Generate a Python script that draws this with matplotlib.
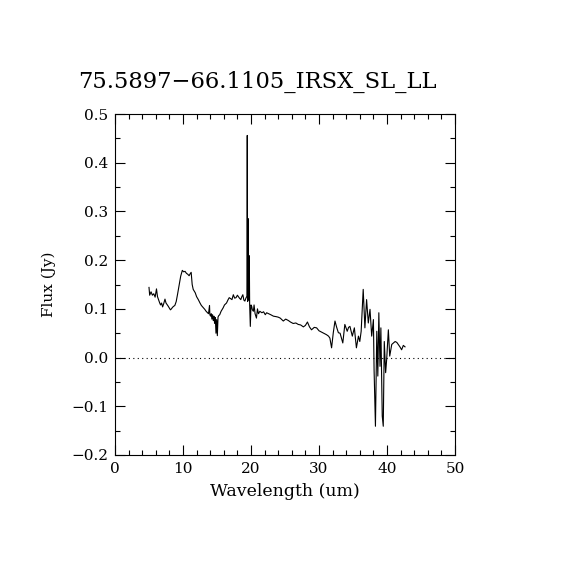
import matplotlib
matplotlib.use("Agg")
import matplotlib.pyplot as plt
from matplotlib.ticker import MultipleLocator

title = "75.5897\u221266.1105_IRSX_SL_LL"
xlabel = "Wavelength (um)"
ylabel = "Flux (Jy)"

wave = [5.0, 5.1, 5.3, 5.5, 5.7, 5.9, 6.0, 6.1, 6.25, 6.4, 6.55, 6.7, 6.85, 7.0, 7.15,
        7.35, 7.5, 7.6, 7.8, 7.97, 8.15, 8.3, 8.45, 8.6, 8.8, 9.0, 9.2, 9.45, 9.66, 9.9,
        10.1, 10.3, 10.5, 10.7, 10.9, 11.05, 11.2, 11.35, 11.5, 11.8, 12.0, 12.25, 12.5,
        12.7, 12.95, 13.2, 13.4, 13.6, 13.75, 13.9, 13.95, 14.05, 14.15, 14.25, 14.35,
        14.45, 14.55, 14.65, 14.75, 14.85, 14.95, 15.05, 15.15, 15.25, 15.4, 15.6, 15.9,
        16.1, 16.4, 16.6, 16.8, 17.0, 17.2, 17.4, 17.6, 17.8, 18.0, 18.1, 18.3, 18.5,
        18.65, 18.8, 18.95, 19.1, 19.25, 19.4, 19.45, 19.5, 19.6, 19.65, 19.75, 19.8,
        19.9, 20.0, 20.1, 20.2, 20.35, 20.45, 20.6, 20.8, 20.95, 21.1, 21.3, 21.6, 21.85,
        22.1, 22.3, 22.6, 22.9, 23.3, 23.7, 24.0, 24.3, 24.75, 25.1, 25.5, 25.8, 26.2,
        26.6, 26.95, 27.3, 27.7, 28.0, 28.3, 28.6, 28.9, 29.3, 29.65, 30.0, 30.4, 30.8,
        31.1, 31.4, 31.6, 31.85, 32.1, 32.35, 32.6, 32.85, 33.1, 33.3, 33.5, 33.8, 34.0,
        34.15, 34.35, 34.55, 34.9, 35.2, 35.5, 35.8, 36.0, 36.2, 36.5, 36.75, 37.0, 37.25,
        37.5, 37.75, 38.0, 38.1, 38.3, 38.5, 38.65, 38.8, 38.97, 39.1, 39.3, 39.45, 39.6,
        39.8, 39.95, 40.2, 40.4, 40.7, 40.95, 41.2, 41.45, 41.65, 41.9, 42.15, 42.4, 42.65]

flux = [0.144, 0.128, 0.135, 0.128, 0.131, 0.124, 0.132, 0.141, 0.125, 0.119, 0.113,
        0.108, 0.112, 0.104, 0.110, 0.120, 0.112, 0.110, 0.106, 0.102, 0.098, 0.100,
        0.103, 0.105, 0.107, 0.115, 0.130, 0.150, 0.167, 0.179, 0.176, 0.177, 0.173,
        0.171, 0.168, 0.172, 0.175, 0.150, 0.140, 0.133, 0.125, 0.119, 0.112, 0.107,
        0.103, 0.099, 0.095, 0.092, 0.090, 0.107, 0.088, 0.085, 0.090, 0.079, 0.088,
        0.076, 0.085, 0.070, 0.082, 0.050, 0.078, 0.045, 0.083, 0.086, 0.088, 0.095,
        0.102, 0.108, 0.112, 0.118, 0.123, 0.121, 0.119, 0.129, 0.122, 0.123, 0.128,
        0.126, 0.122, 0.119, 0.125, 0.129, 0.118, 0.116, 0.122, 0.126, 0.456, 0.115,
        0.285, 0.118, 0.209, 0.110, 0.064, 0.108, 0.105, 0.098, 0.095, 0.108, 0.090,
        0.081, 0.100, 0.090, 0.095, 0.092, 0.094, 0.088, 0.092, 0.090, 0.088, 0.085,
        0.084, 0.083, 0.081, 0.075, 0.079, 0.076, 0.073, 0.070, 0.071, 0.068, 0.067,
        0.063, 0.066, 0.073, 0.063, 0.057, 0.062, 0.061, 0.055, 0.052, 0.049, 0.047,
        0.044, 0.040, 0.020, 0.051, 0.075, 0.062, 0.051, 0.050, 0.040, 0.030, 0.068,
        0.060, 0.054, 0.062, 0.064, 0.044, 0.061, 0.020, 0.044, 0.033, 0.054, 0.140,
        0.061, 0.119, 0.071, 0.099, 0.044, 0.078, -0.025, -0.141, 0.054, -0.038, 0.092,
        -0.018, 0.061, -0.120, -0.141, 0.033, -0.031, -0.004, 0.057, 0.003, 0.027,
        0.030, 0.033, 0.031, 0.027, 0.022, 0.016, 0.025, 0.022]

plt.rcParams['font.family'] = ['DejaVu Serif']

fig = plt.figure(figsize=(5.7, 5.7), dpi=100)
ax = fig.add_axes([115/570, 115/570, 340/570, 341/570])

ax.plot(wave, flux, color='black', linewidth=0.8)
ax.plot([0, 50], [0.0, 0.0], color='black', linewidth=0.8, linestyle=(0, (1, 3)))

ax.set_xlim(0, 50)
ax.set_ylim(-0.2, 0.5)
ax.xaxis.set_major_locator(MultipleLocator(10))
ax.xaxis.set_minor_locator(MultipleLocator(2))
ax.yaxis.set_major_locator(MultipleLocator(0.1))
ax.yaxis.set_minor_locator(MultipleLocator(0.05))
ax.yaxis.set_major_formatter(matplotlib.ticker.FuncFormatter(
    lambda v, p: ("%.1f" % v).replace('-', '\u2212')))

ax.tick_params(which='both', direction='in', top=True, right=True, width=0.8,
               labelsize=11, pad=5)
ax.tick_params(which='major', length=7)
ax.tick_params(which='minor', length=3.5)
for s in ax.spines.values():
    s.set_linewidth(0.8)

ax.set_xlabel(xlabel, fontsize=12.5, labelpad=5)
ax.set_ylabel(ylabel, fontsize=11, labelpad=11)
fig.text(257/570, 1 - 82/570, title, fontsize=16.3, ha='center', va='center')

fig.savefig('out.png', dpi=100)
